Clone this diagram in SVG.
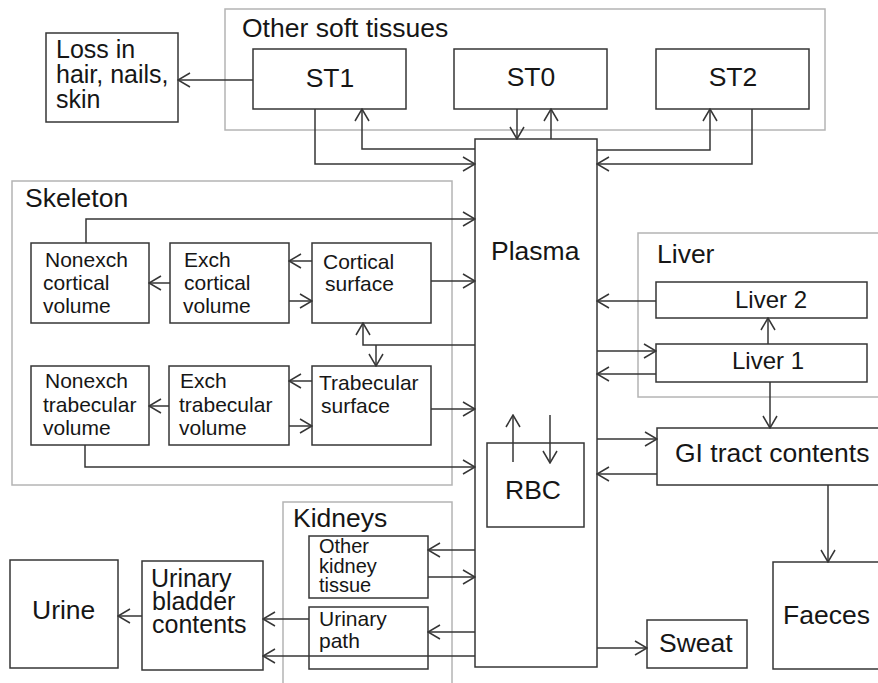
<svg xmlns="http://www.w3.org/2000/svg" width="878" height="683" viewBox="0 0 878 683">
<style>
.bg{fill:#ffffff}
.grp{fill:none;stroke:#b4b4b4;stroke-width:1.5}
.box{fill:#ffffff;stroke:#363636;stroke-width:1.5}
.t{font-family:"Liberation Sans",Arial,sans-serif;fill:#161616}
.big{font-size:26.5px}
.m25{font-size:25px}
.sm{font-size:21px}
.k{font-size:20px}
.mid{text-anchor:middle}
.c path{fill:none;stroke:#363636;stroke-width:1.5;marker-end:url(#ah)}
</style>
<defs>
<marker id="ah" markerUnits="userSpaceOnUse" viewBox="0 0 14 16" markerWidth="14" markerHeight="16" refX="13" refY="8" orient="auto">
<path d="M1,1 L13,8 L1,15" fill="none" stroke="#363636" stroke-width="1.5"/>
</marker>
</defs>
<rect class="bg" x="0" y="0" width="878" height="683"/>

<g id="containers">
<g id="other-soft-tissues"><rect class="grp" x="225" y="9" width="600" height="121"/><text class="t big" x="242" y="37">Other soft tissues</text></g>
<g id="skeleton"><rect class="grp" x="12" y="181" width="440" height="304"/><text class="t big" x="25" y="207">Skeleton</text></g>
<g id="liver"><rect class="grp" x="638" y="233" width="250" height="164"/><text class="t big" x="657" y="263">Liver</text></g>
<g id="kidneys"><rect class="grp" x="283" y="502" width="169" height="200"/><text class="t big" x="293" y="527">Kidneys</text></g>
</g>

<g id="nodes">
<g id="loss"><rect class="box" x="46" y="33" width="132" height="89"/><text class="t m25" x="56" y="58">Loss in</text><text class="t m25" x="56" y="83">hair, nails,</text><text class="t m25" x="56" y="108">skin</text></g>
<g id="st1"><rect class="box" x="253" y="49" width="153" height="60"/><text class="t big mid" x="330" y="87">ST1</text></g>
<g id="st0"><rect class="box" x="454" y="49" width="153" height="60"/><text class="t big mid" x="531" y="86">ST0</text></g>
<g id="st2"><rect class="box" x="656" y="49" width="153" height="60"/><text class="t big mid" x="733" y="86">ST2</text></g>
<g id="plasma"><rect class="box" x="475" y="139" width="122" height="528"/><text class="t big" x="491" y="260">Plasma</text></g>
<g id="nonexch-cortical"><rect class="box" x="31" y="243" width="118" height="80"/><text class="t sm" x="45" y="267">Nonexch</text><text class="t sm" x="43" y="290">cortical</text><text class="t sm" x="43" y="313">volume</text></g>
<g id="exch-cortical"><rect class="box" x="170" y="243" width="119" height="80"/><text class="t sm" x="184" y="267">Exch</text><text class="t sm" x="184" y="290">cortical</text><text class="t sm" x="183" y="313">volume</text></g>
<g id="cortical-surface"><rect class="box" x="312" y="243" width="119" height="80"/><text class="t sm" x="323" y="269">Cortical</text><text class="t sm" x="325" y="291">surface</text></g>
<g id="nonexch-trabecular"><rect class="box" x="31" y="366" width="118" height="79"/><text class="t sm" x="45" y="388">Nonexch</text><text class="t sm" x="43" y="412">trabecular</text><text class="t sm" x="43" y="435">volume</text></g>
<g id="exch-trabecular"><rect class="box" x="169" y="366" width="120" height="79"/><text class="t sm" x="180" y="388">Exch</text><text class="t sm" x="179" y="412">trabecular</text><text class="t sm" x="179" y="435">volume</text></g>
<g id="trabecular-surface"><rect class="box" x="312" y="366" width="119" height="79"/><text class="t sm" x="319" y="390">Trabecular</text><text class="t sm" x="321" y="413">surface</text></g>
<g id="liver2"><rect class="box" x="656" y="282" width="211" height="36"/><text class="t mid" style="font-size:24px" x="771" y="308">Liver 2</text></g>
<g id="liver1"><rect class="box" x="656" y="344" width="211" height="38"/><text class="t mid" style="font-size:24px" x="768" y="369">Liver 1</text></g>
<g id="gi"><rect class="box" x="657" y="428" width="230" height="57"/><text class="t big" x="675" y="462">GI tract contents</text></g>
<g id="rbc"><rect class="box" x="487" y="443" width="97" height="84"/><text class="t big mid" x="533" y="499">RBC</text></g>
<g id="other-kidney"><rect class="box" x="309" y="536" width="119" height="62"/><text class="t k" x="319" y="553">Other</text><text class="t k" x="319" y="573">kidney</text><text class="t k" x="319" y="592">tissue</text></g>
<g id="urinary-path"><rect class="box" x="309" y="607" width="119" height="62"/><text class="t sm" x="319" y="626">Urinary</text><text class="t sm" x="319" y="648">path</text></g>
<g id="bladder"><rect class="box" x="142" y="561" width="121" height="109"/><text class="t m25" x="151" y="587">Urinary</text><text class="t m25" x="152" y="610">bladder</text><text class="t m25" x="152" y="633">contents</text></g>
<g id="urine"><rect class="box" x="10" y="560" width="108" height="108"/><text class="t big" x="32" y="619">Urine</text></g>
<g id="sweat"><rect class="box" x="647" y="620" width="100" height="48"/><text class="t big" x="659" y="652">Sweat</text></g>
<g id="faeces"><rect class="box" x="773" y="562" width="120" height="107"/><text class="t big" x="783" y="624">Faeces</text></g>
</g>

<g id="connectors" class="c">
<path d="M253,80 H178"/>
<path d="M315,109 V164 H475"/>
<path d="M475,149 H362 V109"/>
<path d="M517,109 V139"/>
<path d="M551,139 V109"/>
<path d="M597,150 H710 V109"/>
<path d="M752,109 V164 H597"/>
<path d="M86,243 V219 H475"/>
<path d="M312,261 H289"/>
<path d="M289,301 H312"/>
<path d="M170,283 H149"/>
<path d="M431,281 H475"/>
<path d="M475,345 H363 V323"/>
<path d="M376,345 V366"/>
<path d="M312,381 H289"/>
<path d="M289,426 H312"/>
<path d="M169,406 H149"/>
<path d="M431,409 H475"/>
<path d="M85,445 V467 H475"/>
<path d="M656,301 H597"/>
<path d="M597,351 H656"/>
<path d="M656,374 H597"/>
<path d="M768,344 V318"/>
<path d="M770,382 V428"/>
<path d="M597,439 H657"/>
<path d="M657,474 H597"/>
<path d="M828,485 V562"/>
<path d="M513,462 V415"/>
<path d="M550,415 V463"/>
<path d="M475,550 H428"/>
<path d="M428,577 H475"/>
<path d="M475,632 H428"/>
<path d="M475,656 H263"/>
<path d="M309,619 H263"/>
<path d="M142,616 H118"/>
<path d="M597,648 H647"/>
</g>
</svg>
